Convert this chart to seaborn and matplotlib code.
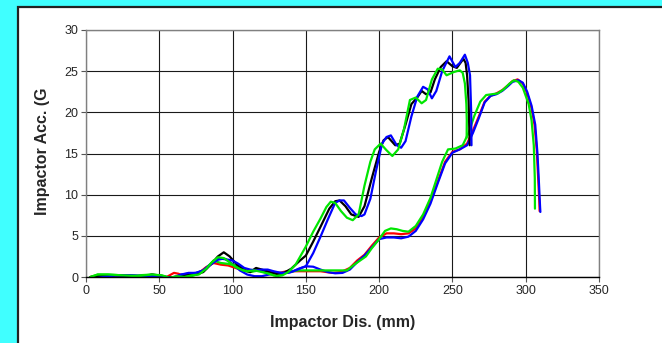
import numpy as np
import pandas as pd
import seaborn as sns
import matplotlib.pyplot as plt
from matplotlib.patches import Rectangle

# displacement (mm) / acceleration (G) traces
black1_x = [3, 10, 20, 30, 40, 45, 50, 55, 60, 65, 70, 75, 80, 85, 90, 94, 98, 103, 108, 112, 116, 120, 125,
            130, 135, 140, 146, 150, 155, 160, 166, 170, 173, 177, 181, 186, 190, 195, 200, 203, 206, 211, 214,
            218, 222, 226, 229, 232, 235, 238, 242, 246, 250, 253, 257.5, 259, 260, 261, 261.8]
black1_y = [0, 0.1, 0.2, 0.1, 0.1, 0.3, 0.2, 0.0, -0.1, 0.2, 0.3, 0.3, 0.6, 1.5, 2.5, 3.0, 2.5, 1.5, 0.9,
            0.6, 1.1, 0.9, 0.6, 0.4, 0.5, 1.0, 2.0, 2.6, 4.3, 6.1, 8.3, 9.2, 9.3, 8.6, 7.6, 7.3, 8.6, 12.0,
            15.2, 16.6, 17.0, 16.0, 16.2, 18.5, 21.0, 21.8, 22.6, 22.2, 22.4, 24.0, 25.5, 26.2, 25.6, 25.4,
            26.5, 26.0, 24.5, 21.5, 16.0]

blue1_x = [5, 12, 20, 30, 40, 50, 55, 60, 65, 70, 75, 80, 85, 90, 93, 97, 100, 104, 108, 112, 116, 120, 124,
           128, 133, 138, 143, 147, 150, 155, 160, 165, 170, 173, 176, 180, 184, 188, 190, 194, 198, 202, 205,
           208, 212, 215, 218, 222, 226, 230, 233, 236, 239, 243, 248, 252, 255, 258.5, 260.5, 262, 262.8,
           263]
blue1_y = [-0.2, 0.0, 0.2, 0.2, 0.1, 0.2, 0.0, -0.2, 0.3, 0.5, 0.5, 0.8, 1.5, 2.1, 2.2, 2.1, 2.0, 1.6, 1.1,
           0.9, 0.8, 0.9, 0.9, 0.7, 0.5, 0.5, 0.8, 1.1, 1.3, 2.9, 4.9, 7.0, 9.0, 9.3, 9.3, 8.4, 7.6, 7.4,
           7.6, 9.5, 13.0, 16.2, 17.0, 17.2, 16.0, 15.7, 16.5, 19.5, 21.9, 23.1, 22.8, 21.7, 22.6, 25.0,
           26.8, 25.5, 26.0, 27.0, 26.0, 24.5, 20.0, 16.0]

green1_x = [3, 8, 15, 25, 35, 45, 52, 57, 62, 67, 72, 77, 82, 86, 90, 94, 98, 102, 106, 110, 115, 120, 125,
            130, 134, 138, 143, 150, 155, 160, 164, 167, 170, 174, 178, 182, 186, 190, 194, 197, 201, 205,
            209, 213, 217, 221, 225, 229, 232, 236, 240, 243, 246, 251, 255, 257, 258.5, 259.5, 259.8, 259.7]
green1_y = [0, 0.3, 0.3, 0.2, 0.1, 0.3, 0.2, -0.1, 0.1, 0.0, 0.2, 0.3, 1.0, 1.8, 2.4, 2.3, 1.8, 1.2, 0.9,
            0.7, 0.8, 0.6, 0.4, 0.1, 0.2, 0.6, 1.5, 3.7, 5.5, 7.1, 8.5, 9.15, 9.0, 8.0, 7.2, 6.9, 7.6, 11.1,
            14.0, 15.5, 16.2, 15.4, 14.7, 15.5, 18.0, 21.5, 21.8, 21.1, 21.5, 24.0, 25.3, 25.2, 24.5, 24.9,
            25.1, 24.8, 23.5, 21.0, 19.0, 16.9]

red2_x = [3, 10, 20, 30, 40, 48, 53, 57, 60, 63, 67, 72, 77, 82, 87, 92, 97, 102, 107, 112, 117, 122, 127,
          132, 137, 142, 150, 160, 168, 174, 180, 185, 190, 195, 200, 205, 210, 215, 220, 225, 230, 235, 240,
          245, 250, 255, 260, 264, 268, 272, 276, 280, 284, 288, 291, 294.5, 298, 301, 304, 306, 307.5,
          308.5, 309.3, 309.5]
red2_y = [0, 0.1, 0.2, 0.1, 0.1, 0.1, -0.2, 0.2, 0.5, 0.4, 0.1, 0.2, 0.5, 1.2, 1.7, 1.5, 1.4, 1.1, 0.8,
          0.6, 0.9, 0.8, 0.6, 0.5, 0.7, 0.7, 0.7, 0.7, 0.5, 0.6, 1.1, 2.0, 2.7, 3.8, 4.8, 5.3, 5.3, 5.2,
          5.3, 5.9, 7.3, 9.2, 11.6, 14.0, 15.2, 15.5, 16.2, 17.8, 19.5, 21.3, 22.0, 22.3, 22.7, 23.3, 23.8,
          24.0, 23.5, 22.3, 20.5, 18.5, 15.5, 12.0, 9.0, 8.0]

blue2_x = [5, 12, 20, 30, 40, 50, 55, 60, 65, 70, 75, 80, 85, 90, 95, 100, 105, 110, 115, 120, 125, 130, 135,
           140, 145, 150, 155, 160, 165, 170, 175, 180, 185, 190, 195, 200, 205, 210, 215, 220, 225, 230,
           235, 240, 245, 250, 255, 260, 264, 268, 272, 276, 280, 284, 288, 291, 295, 298, 301, 304, 306.5,
           308, 309, 309.8, 310]
blue2_y = [-0.2, 0.1, 0.2, 0.2, 0.0, 0.1, -0.1, 0.0, 0.3, 0.4, 0.5, 0.8, 1.6, 2.2, 2.2, 1.6, 0.8, 0.3, 0.1,
           0.1, 0.3, 0.5, 0.5, 0.6, 1.0, 1.3, 1.25, 0.9, 0.6, 0.45, 0.5, 0.9, 1.8, 2.6, 3.6, 4.6, 4.8, 4.8,
           4.7, 4.9, 5.6, 7.0, 8.9, 11.4, 13.8, 15.1, 15.5, 16.0, 17.5, 19.3, 21.2, 22.0, 22.2, 22.6, 23.2,
           23.7, 23.9, 23.6, 22.5, 20.8, 18.5, 15.0, 11.5, 8.5, 7.9]

green2_x = [3, 8, 15, 25, 35, 45, 52, 57, 62, 67, 72, 77, 82, 87, 92, 97, 102, 107, 112, 118, 123, 128, 133,
            138, 145, 150, 160, 170, 178, 183, 187, 191, 195, 200, 204, 208, 212, 216, 220, 225, 230, 235,
            239, 243, 247, 252, 257, 261, 265, 269, 273, 277, 281, 285, 289, 292, 295, 298, 300, 302, 304,
            305.5, 306.2, 306.3]
green2_y = [0, 0.3, 0.3, 0.2, 0.2, 0.3, 0.1, -0.2, 0.0, 0.0, 0.1, 0.4, 1.0, 2.0, 1.7, 1.6, 1.4, 0.8, 0.6,
            0.8, 0.5, 0.2, 0.3, 0.6, 0.8, 0.8, 0.8, 0.8, 0.8, 1.5, 2.0, 2.5, 3.5, 4.6, 5.6, 5.9, 5.8, 5.6,
            5.5, 6.2, 7.6, 9.6, 11.8, 14.0, 15.5, 15.6, 16.0, 17.5, 19.6, 21.3, 22.1, 22.2, 22.3, 22.8,
            23.5, 23.9, 23.7, 23.0, 22.0, 21.0, 19.0, 16.0, 12.0, 8.3]

traces = [
    (red2_x, red2_y, '#FF0000'),
    (blue2_x, blue2_y, '#0000FF'),
    (green2_x, green2_y, '#00E600'),
    (black1_x, black1_y, '#000000'),
    (blue1_x, blue1_y, '#0000FF'),
    (green1_x, green1_y, '#00E600'),
]

sns.set_style('white')
plt.rcParams['font.family'] = ['Liberation Sans', 'DejaVu Sans']

fig = plt.figure(figsize=(6.62, 3.43), dpi=100)
fig.patch.set_facecolor('#40FFFF')
# white panel with dark border on the top/left
panel = Rectangle((18 / 662, -0.1), 1.2, 1.1 - 7 / 343,
                  transform=fig.transFigure, facecolor='white',
                  edgecolor='#222222', linewidth=1.6, zorder=-10)
fig.patches.append(panel)

ax = fig.add_axes([86 / 662, 1 - 277 / 343, 513 / 662, 247 / 343])
ax.set_facecolor('white')

for tx, ty, col in traces:
    d = pd.DataFrame({'x': tx, 'y': ty})
    sns.lineplot(data=d, x='x', y='y', sort=False, estimator=None, color=col,
                 linewidth=1.6, ax=ax)

ax.set_xlim(0, 350)
ax.set_ylim(0, 30)
ax.set_xticks(np.arange(0, 351, 50))
ax.set_yticks(np.arange(0, 31, 5))
ax.grid(True, color='#1a1a1a', linewidth=0.8)
ax.set_axisbelow(True)
for s in ['top', 'right', 'left']:
    ax.spines[s].set_color('#808080')
    ax.spines[s].set_linewidth(1.0)
ax.spines['bottom'].set_color('#000000')
ax.spines['bottom'].set_linewidth(1.0)
ax.tick_params(direction='out', length=3.5, width=0.8, color='#555555',
               labelsize=9, pad=2, bottom=True, left=True)

ax.set_xlabel('Impactor Dis. (mm)', fontsize=11.5, fontweight='bold')
ax.set_ylabel('Impactor Acc. (G', fontsize=11.5, fontweight='bold')
ax.xaxis.set_label_coords(0.5, -0.154)
ax.yaxis.set_label_coords(-0.07, 0.51)

fig.savefig('out.png', dpi=100, facecolor=fig.get_facecolor())
